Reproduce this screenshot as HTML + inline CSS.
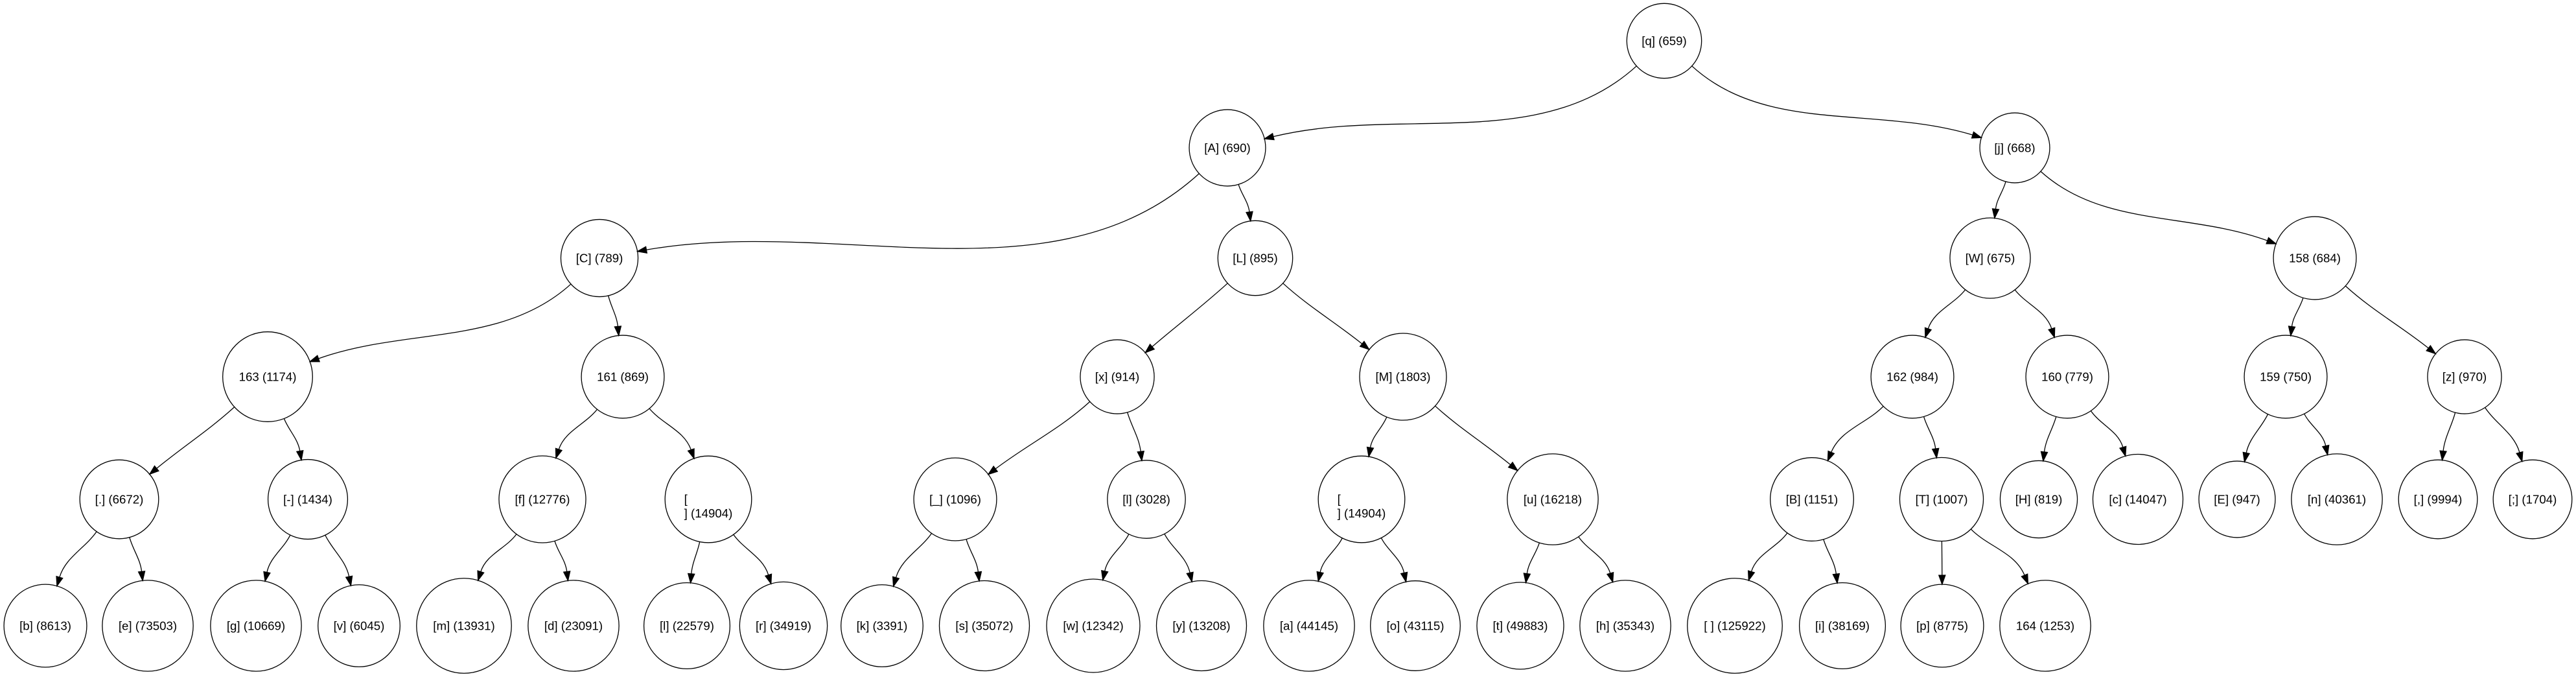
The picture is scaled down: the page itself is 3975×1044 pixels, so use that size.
<!DOCTYPE html>
<html><head><meta charset="utf-8"><style>
html,body{margin:0;padding:0;background:#fff;}
svg{display:block;}
text{font-family:"Liberation Sans",sans-serif;font-size:18.67px;fill:#000;}
</style></head><body>
<svg id="s" width="3975" height="1044" viewBox="0 0 3975 1044" xmlns="http://www.w3.org/2000/svg"></svg>
<script>
const Y=[63,228,398,581,770,965];
const N={
q:[2568,0,"[q] (659)"],
A:[1894,1,"[A] (690)"],j:[3109,1,"[j] (668)"],
C:[925,2,"[C] (789)"],L:[1937,2,"[L] (895)"],W:[3071,2,"[W] (675)"],n158:[3572,2,"158 (684)"],
n163:[413,3,"163 (1174)"],n161:[961,3,"161 (869)"],x:[1724,3,"[x] (914)"],M:[2165,3,"[M] (1803)"],n162:[2951,3,"162 (984)"],n160:[3190,3,"160 (779)"],n159:[3527,3,"159 (750)"],z:[3803,3,"[z] (970)"],
dot:[184,4,"[.] (6672)"],dash:[475,4,"[-] (1434)"],f:[837,4,"[f] (12776)"],nl1:[1093,4,"NL"],us:[1474,4,"[_] (1096)"],l:[1769,4,"[l] (3028)"],nl2:[2101,4,"NL"],u:[2396,4,"[u] (16218)"],B:[2796,4,"[B] (1151)"],T:[2996,4,"[T] (1007)"],H:[3146,4,"[H] (819)"],c:[3299,4,"[c] (14047)"],E:[3452,4,"[E] (947)"],nn:[3606,4,"[n] (40361)"],cm:[3762,4,"[,] (9994)"],sc:[3908,4,"[;] (1704)"],
b:[70,5,"[b] (8613)"],e:[228,5,"[e] (73503)"],g:[395,5,"[g] (10669)"],v:[554,5,"[v] (6045)"],m:[716,5,"[m] (13931)"],d:[885,5,"[d] (23091)"],l2:[1060,5,"[l] (22579)"],r:[1209,5,"[r] (34919)"],k:[1361,5,"[k] (3391)"],s:[1519,5,"[s] (35072)"],w:[1687,5,"[w] (12342)"],y:[1854,5,"[y] (13208)"],a:[2020,5,"[a] (44145)"],o:[2184,5,"[o] (43115)"],t:[2346,5,"[t] (49883)"],h:[2508,5,"[h] (35343)"],sp:[2677,5,"[ ] (125922)"],i:[2843,5,"[i] (38169)"],p:[2997,5,"[p] (8775)"],n164:[3156,5,"164 (1253)"]
};
const E=[["q","A"],["q","j"],["A","C"],["A","L"],["j","W"],["j","n158"],["C","n163"],["C","n161"],["L","x"],["L","M"],["W","n162"],["W","n160"],["n158","n159"],["n158","z"],
["n163","dot"],["n163","dash"],["n161","f"],["n161","nl1"],["x","us"],["x","l"],["M","nl2"],["M","u"],["n162","B"],["n162","T"],["n160","H"],["n160","c"],["n159","E"],["n159","nn"],["z","cm"],["z","sc"],
["dot","b"],["dot","e"],["dash","g"],["dash","v"],["f","m"],["f","d"],["nl1","l2"],["nl1","r"],["us","k"],["us","s"],["l","w"],["l","y"],["nl2","a"],["nl2","o"],["u","t"],["u","h"],["B","sp"],["B","i"],["T","p"],["T","n164"]];
const svg=document.getElementById("s");
const cv=document.createElement("canvas").getContext("2d");
cv.font='18.67px "Liberation Sans"';
let out="";
for(const k in N){const [x,lv,lab]=N[k];const cy=Y[lv];let w,r;
 if(lab==="NL"){w=cv.measureText("] (14904)").width;r=0.6*w+22;
  const lx=x-w/2;
  out+=`<text x="${lx}" y="${cy+6}">[</text><text x="${lx}" y="${cy+28}">] (14904)</text>`;}
 else{w=cv.measureText(lab).width;r=0.6*w+16;
  out+=`<text x="${x}" y="${cy+6.5}" text-anchor="middle">${lab.replace(/ /g,"&#160;")}</text>`;}
 N[k].r=r;N[k].cy=cy;
 out+=`<circle cx="${x}" cy="${cy}" r="${r}" fill="none" stroke="#000" stroke-width="1.3"/>`;}
function nz(a,b){const l=Math.hypot(a,b);return [a/l,b/l];}
for(const [a,b] of E){const P=N[a],C=N[b];const px=P[0],py=P.cy,cx=C[0],cy=C.cy;
 const dx=cx-px,dy=cy-py;const ratio=dx/dy;
 const rs=Math.max(-1.1,Math.min(1.1,ratio*1.2));
 let [sx,sy]=nz(rs,1);
 let ux,uy;
 if(Math.abs(ratio)<1){[ux,uy]=nz(ratio*0.5,1);}else{[ux,uy]=nz(dx,dy);}
 const x0=px+P.r*sx,y0=py+P.r*sy;
 const tx=cx-C.r*ux,ty=cy-C.r*uy;
 const ex=tx-14*ux,ey=ty-14*uy;
 const D=Math.hypot(ex-x0,ey-y0);
 const L1=D*0.35,L2=D*0.35;
 const c1x=x0+sx*L1,c1y=y0+sy*L1,c2x=ex-ux*L2,c2y=ey-uy*L2;
 out+=`<path d="M${x0},${y0} C${c1x},${c1y} ${c2x},${c2y} ${ex},${ey}" fill="none" stroke="#000" stroke-width="1.3"/>`;
 const nx=-uy,ny=ux;
 out+=`<polygon points="${tx},${ty} ${ex+nx*5},${ey+ny*5} ${ex-nx*5},${ey-ny*5}" fill="#000" stroke="#000" stroke-width="1.3"/>`;}
svg.innerHTML=out;
</script>
</body></html>
